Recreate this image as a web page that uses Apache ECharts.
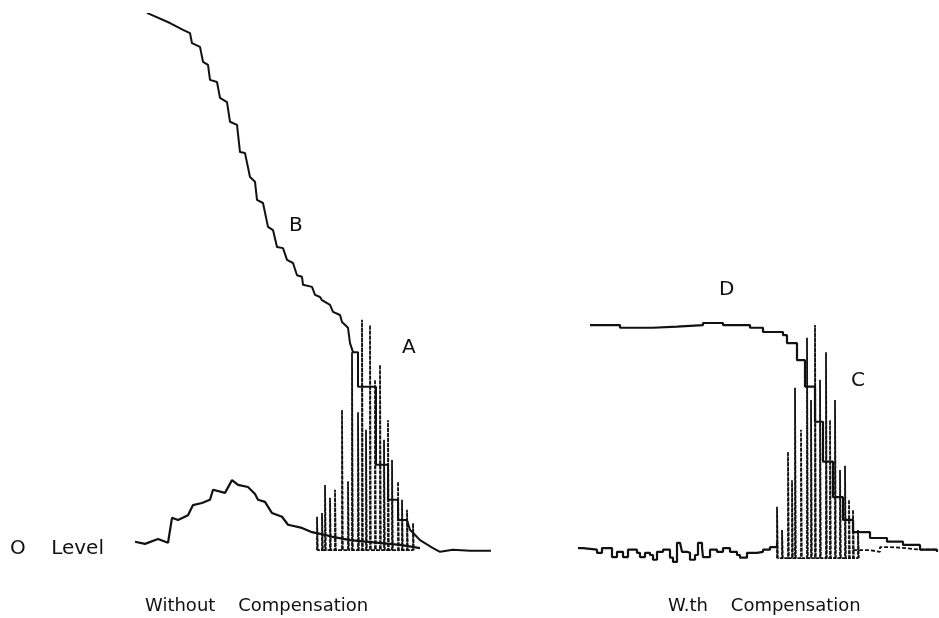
<!DOCTYPE html>
<html>
<head>
<meta charset="utf-8">
<script src="https://cdn.jsdelivr.net/npm/echarts@6/dist/echarts.min.js"></script>
<style>
  html, body { margin: 0; padding: 0; background: #fff; }
  #chart { width: 939px; height: 618px; }
</style>
</head>
<body>
<div id="chart"></div>
<script>
// left panel: without compensation (x = sample, y = level, 0 = zero level)
var curveB_x = [12,35,48,55,57,65,68,73,75,82,85,92,95,102,105,110,115,120,122,128,133,138,142,148,152,158,162,167,168,177,180,185,187,195,198,205,207,213,215,218,223,223,233,241,241,253,253,263,263,272,275,278,285,298,305,318,335,358];
var curveB_y = [100.2,98.3,97.0,96.4,94.5,93.8,91.0,90.4,87.6,87.2,84.2,83.4,79.7,79.1,74.0,73.8,69.3,68.4,65.0,64.4,59.9,59.3,56.1,55.9,53.7,53.1,50.8,50.5,49.0,48.6,47.1,46.7,46.1,45.2,43.9,43.3,42.0,40.9,38.0,36.3,36.3,29.8,29.8,29.8,15.1,15.1,8.5,8.5,4.7,4.7,2.8,2.3,0.9,-0.6,-1.3,-0.9,-1.1,-1.1];

var baseL_x = [0,10,23,33,37,43,53,58,67,75,78,90,97,103,113,120,123,130,137,147,153,167,177,190,198,215,265,285];
var baseL_y = [0.6,0.2,1.1,0.4,5.1,4.7,5.6,7.5,7.9,8.5,10.4,9.8,12.2,11.3,10.9,9.6,8.5,8.1,6.0,5.3,3.8,3.2,2.4,1.9,1.5,0.9,0,-0.6];

var spikeA_x = [182,187,190,195,200,207,213,217,223,227,231,235,240,245,249,253,257,263,267,272,278];
var spikeA_top = [5.3,6.0,11.3,8.9,10.4,25.4,12.0,36.3,25.0,42.4,21.7,41.4,31.1,33.9,19.8,23.5,16.0,11.9,8.5,6.6,4.1];

// right panel: with compensation
var curveD_x = [12,42,75,99,125,145,172,185,205,209,219,227,237,245,255,265,275,292,309,325,342,359];
var curveD_y = [41.4,40.9,41.1,41.4,41.8,41.4,40.9,40.1,39.5,38.0,34.8,29.8,23.2,15.7,9.0,4.7,2.4,1.3,0.6,0,-0.9,-1.3];

var baseR_x = [0,5,19,24,30,34,39,45,50,59,62,67,72,75,79,85,92,95,99,102,104,109,112,117,120,124,125,132,139,145,152,159,162,169,179,185,192,199];
var baseR_y = [-0.6,-0.9,-1.5,-0.6,-0.6,-2.3,-1.3,-2.3,-0.9,-1.5,-2.3,-1.5,-1.9,-2.8,-1.3,-0.9,-2.4,-3.2,0.4,0.6,-1.3,-1.5,-2.8,-1.9,0.4,-0.4,-2.3,-0.9,-1.3,-0.6,-1.3,-1.9,-2.4,-1.5,-1.3,-0.9,-0.4,0.4];

var tailR_x = [275,292,302,312,327,342,359];
var tailR_y = [-1.0,-1.3,-0.4,-0.6,-0.9,-0.9,-1.3];

var spikeC_x = [199,204,210,214,217,223,229,233,237,242,248,252,257,262,267,271,275,280];
var spikeC_top = [7.2,2.8,17.5,12.2,29.6,21.7,39.0,27.3,41.4,31.1,36.3,23.5,27.3,14.1,14.9,8.5,6.6,2.8];

function pairs(xs, ys) {
  return xs.map(function (x, i) { return [x, ys[i]]; });
}
// oscilloscope trace: up to the top, a hair across, and back down
function spikes(xs, tops, bottom) {
  var out = [];
  xs.forEach(function (x, i) {
    out.push([x, bottom], [x, tops[i]], [x + 0.8, tops[i]], [x + 0.8, bottom]);
  });
  return out;
}

var ink = '#111';
var font = 'DejaVu Sans, Liberation Sans, sans-serif';

var chart = echarts.init(document.getElementById('chart'));
chart.setOption({
  animation: false,
  backgroundColor: '#fff',
  grid: [
    { left: 135, width: 355, top: 14, bottom: 20 },
    { left: 578, width: 360, top: 14, bottom: 20 }
  ],
  xAxis: [
    { type: 'value', gridIndex: 0, min: 0, max: 355, show: false },
    { type: 'value', gridIndex: 1, min: 0, max: 360, show: false }
  ],
  yAxis: [
    { type: 'value', gridIndex: 0, min: -10, max: 100, show: false },
    { type: 'value', gridIndex: 1, min: -10, max: 100, show: false }
  ],
  series: [
    {
      name: 'B', type: 'line', xAxisIndex: 0, yAxisIndex: 0, symbol: 'none',
      data: pairs(curveB_x, curveB_y),
      lineStyle: { color: ink, width: 2 }
    },
    {
      name: 'baseL', type: 'line', xAxisIndex: 0, yAxisIndex: 0, symbol: 'none',
      data: pairs(baseL_x, baseL_y),
      lineStyle: { color: ink, width: 2.2 }
    },
    {
      name: 'A', type: 'line', xAxisIndex: 0, yAxisIndex: 0, symbol: 'none',
      data: spikes(spikeA_x, spikeA_top, -1),
      lineStyle: { color: ink, width: 1.8, type: [4, 1] }
    },
    {
      name: 'D', type: 'line', xAxisIndex: 1, yAxisIndex: 1, symbol: 'none', step: 'end',
      data: pairs(curveD_x, curveD_y),
      lineStyle: { color: ink, width: 2.2 }
    },
    {
      name: 'baseR', type: 'line', xAxisIndex: 1, yAxisIndex: 1, symbol: 'none', step: 'end',
      data: pairs(baseR_x, baseR_y),
      lineStyle: { color: ink, width: 2.2 }
    },
    {
      name: 'tailR', type: 'line', xAxisIndex: 1, yAxisIndex: 1, symbol: 'none', step: 'end',
      data: pairs(tailR_x, tailR_y),
      lineStyle: { color: ink, width: 1.8, type: [4, 2] }
    },
    {
      name: 'C', type: 'line', xAxisIndex: 1, yAxisIndex: 1, symbol: 'none',
      data: spikes(spikeC_x, spikeC_top, -2.5),
      lineStyle: { color: ink, width: 1.8, type: [4, 1] }
    }
  ],
  graphic: [
    { type: 'text', left: 10, top: 539, style: { text: 'O    Level', font: '20px ' + font, fill: ink } },
    { type: 'text', left: 145, top: 597, style: { text: 'Without    Compensation', font: '18px ' + font, fill: ink } },
    { type: 'text', left: 668, top: 597, style: { text: 'W.th    Compensation', font: '18px ' + font, fill: ink } },
    { type: 'text', left: 289, top: 216, style: { text: 'B', font: '20px ' + font, fill: ink } },
    { type: 'text', left: 402, top: 338, style: { text: 'A', font: '20px ' + font, fill: ink } },
    { type: 'text', left: 719, top: 280, style: { text: 'D', font: '20px ' + font, fill: ink } },
    { type: 'text', left: 851, top: 371, style: { text: 'C', font: '20px ' + font, fill: ink } }
  ]
});
</script>
</body>
</html>
